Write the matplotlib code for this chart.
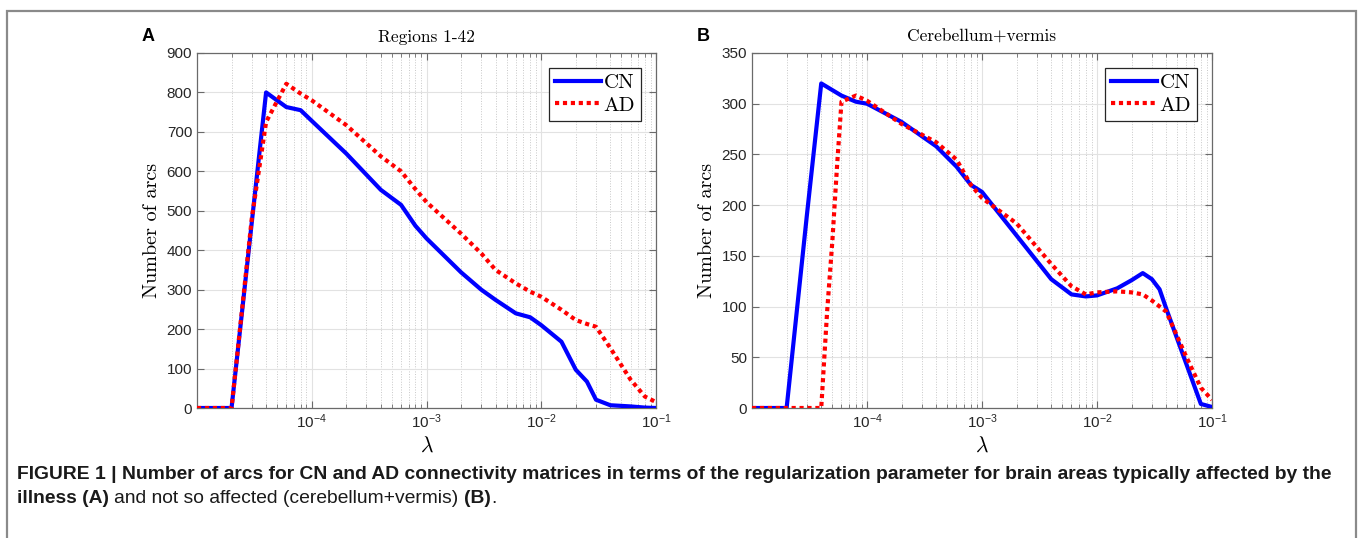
import numpy as np
import matplotlib
matplotlib.use("Agg")
import matplotlib.pyplot as plt
from matplotlib.patches import Rectangle
from matplotlib.ticker import LogLocator, NullFormatter

# lambda grid and arc counts, panel A (regions 1-42)
lam_a = [1e-5, 2e-5, 3e-5, 4e-5, 6e-5, 8e-5, 1e-4, 2e-4, 4e-4, 6e-4, 8e-4, 1e-3,
         2e-3, 3e-3, 4e-3, 6e-3, 8e-3, 1e-2, 1.5e-2, 2e-2, 2.5e-2, 3e-2, 4e-2,
         6e-2, 8e-2, 1e-1]
cn_a = [0, 0, 470, 800, 763, 755, 728, 645, 553, 515, 462, 430,
        344, 300, 274, 240, 230, 210, 168, 97, 67, 21, 7,
        4, 1, 0]
ad_a = [0, 0, 480, 725, 822, 797, 780, 717, 638, 600, 555, 522,
        442, 392, 350, 316, 295, 282, 249, 223, 213, 206, 152,
        72, 29, 15]

# panel B (cerebellum + vermis)
lam_b_cn = [1e-5, 2e-5, 3e-5, 4e-5, 6e-5, 8e-5, 1e-4, 2e-4, 4e-4, 6e-4, 8e-4,
            1e-3, 2e-3, 4e-3, 6e-3, 8e-3, 1e-2, 1.5e-2, 2e-2, 2.5e-2, 3e-2,
            3.5e-2, 4e-2, 6e-2, 8e-2, 1e-1]
cn_b = [0, 0, 190, 320, 308, 302, 300, 282, 258, 238, 220,
        213, 170, 127, 112, 110, 111, 118, 126, 133, 127,
        117, 98, 43, 4, 1]
lam_b_ad = [1e-5, 2e-5, 3e-5, 4e-5, 4.5e-5, 5e-5, 5.5e-5, 6e-5, 8e-5, 1e-4,
            2e-4, 4e-4, 6e-4, 8e-4, 1e-3, 2e-3, 4e-3, 6e-3, 8e-3, 1e-2,
            1.5e-2, 2e-2, 2.5e-2, 3e-2, 4e-2, 6e-2, 8e-2, 1e-1]
ad_b = [0, 0, 0, 0, 95, 165, 240, 302, 308, 303,
        280, 262, 245, 220, 207, 182, 142, 120, 112, 114,
        115, 114, 112, 106, 95, 50, 20, 8]

xticks = [1e-4, 1e-3, 1e-2, 1e-1]

plt.rcParams["font.family"] = ["Liberation Sans", "DejaVu Sans"]

W, H = 1358, 538
fig = plt.figure(figsize=(W / 100, H / 100), dpi=100)

axA = fig.add_axes([197 / W, 1 - 408 / H, 459 / W, 355 / H])
axB = fig.add_axes([752 / W, 1 - 408 / H, 460 / W, 355 / H])


def style(ax, ymax, ystep, title):
    ax.set_xscale("log")
    ax.set_xlim(1e-5, 1e-1)
    ax.set_ylim(0, ymax)
    ax.set_xticks(xticks)
    ax.xaxis.set_minor_locator(LogLocator(base=10, subs=np.arange(2, 10)))
    ax.xaxis.set_minor_formatter(NullFormatter())
    ax.set_yticks(np.arange(0, ymax + 1, ystep))
    ax.grid(which="major", color="#e2e2e2", lw=0.8, ls="-")
    ax.grid(which="minor", axis="x", color="#c8c8c8", lw=0.7, ls=":")
    ax.set_axisbelow(True)
    ax.tick_params(which="both", direction="in", top=True, right=True,
                   colors="#6a6a6a", labelcolor="#262626", labelsize=11)
    ax.tick_params(which="major", length=5, pad=3.5)
    ax.tick_params(which="minor", length=3)
    for s in ax.spines.values():
        s.set_color("#6a6a6a")
        s.set_linewidth(0.9)
    ax.set_title(title, family="cmr10", fontsize=12.5, pad=8)
    ax.set_ylabel("Number of arcs", family="cmr10", fontsize=14.5, labelpad=4)
    ax.set_xlabel(r"$\lambda$", math_fontfamily="cm", fontsize=15.5, labelpad=3)
    leg = ax.legend(loc="upper right", prop={"family": "cmr10", "size": 15},
                    fancybox=False, edgecolor="#262626", framealpha=1,
                    handlelength=2.2, handletextpad=0.15, borderpad=0.28,
                    labelspacing=0.18, borderaxespad=0.72)
    leg.get_frame().set_linewidth(0.9)


for ax, lx_cn, y_cn, lx_ad, y_ad in [(axA, lam_a, cn_a, lam_a, ad_a),
                                     (axB, lam_b_cn, cn_b, lam_b_ad, ad_b)]:
    ax.plot(lx_cn, y_cn, color="#0000ff", lw=3, label="CN", zorder=3)
    ax.plot(lx_ad, y_ad, color="#ff0000", lw=3, ls=(0, (1, 0.9)),
            label="AD", zorder=4)

style(axA, 900, 100, "Regions 1-42")
style(axB, 350, 50, "Cerebellum+vermis")

fig.text(148 / W, 1 - 36.5 / H, "A", weight="bold", fontsize=13,
         ha="center", va="center")
fig.text(703 / W, 1 - 36.5 / H, "B", weight="bold", fontsize=13,
         ha="center", va="center")

# frame round the figure
fig.add_artist(Rectangle((7 / W, -0.05), (1356 - 7) / W, 1.05 - 10.7 / H,
                         transform=fig.transFigure, fill=False,
                         edgecolor="#8a8a8a", lw=1.6))

# caption
cap1 = ("FIGURE 1 | Number of arcs for CN and AD connectivity matrices in terms "
        "of the regularization parameter for brain areas typically affected by the")
r = fig.canvas.get_renderer()
t1 = fig.text(17 / W, 1 - 479 / H, cap1, weight="bold", fontsize=11,
              va="baseline", color="#1a1a1a")
w1 = t1.get_window_extent(r).width
fs = 11 * 1318 / w1
t1.set_fontsize(fs)

parts = [("illness (A)", "bold"), ("and not so affected (cerebellum+vermis)", "normal"),
         ("(B)", "bold"), (".", "normal")]
gaps = [0, 1, 1, 0]
tmp1 = fig.text(0, 0, "x x", fontsize=fs)
tmp2 = fig.text(0, 0, "xx", fontsize=fs)
sp = tmp1.get_window_extent(r).width - tmp2.get_window_extent(r).width
tmp1.remove()
tmp2.remove()
x = 17
for (s, wgt), g in zip(parts, gaps):
    x += g * sp
    t = fig.text(x / W, 1 - 503 / H, s, weight=wgt, fontsize=fs,
                 va="baseline", color="#1a1a1a")
    x += t.get_window_extent(r).width

fig.savefig("out.png", dpi=100)
